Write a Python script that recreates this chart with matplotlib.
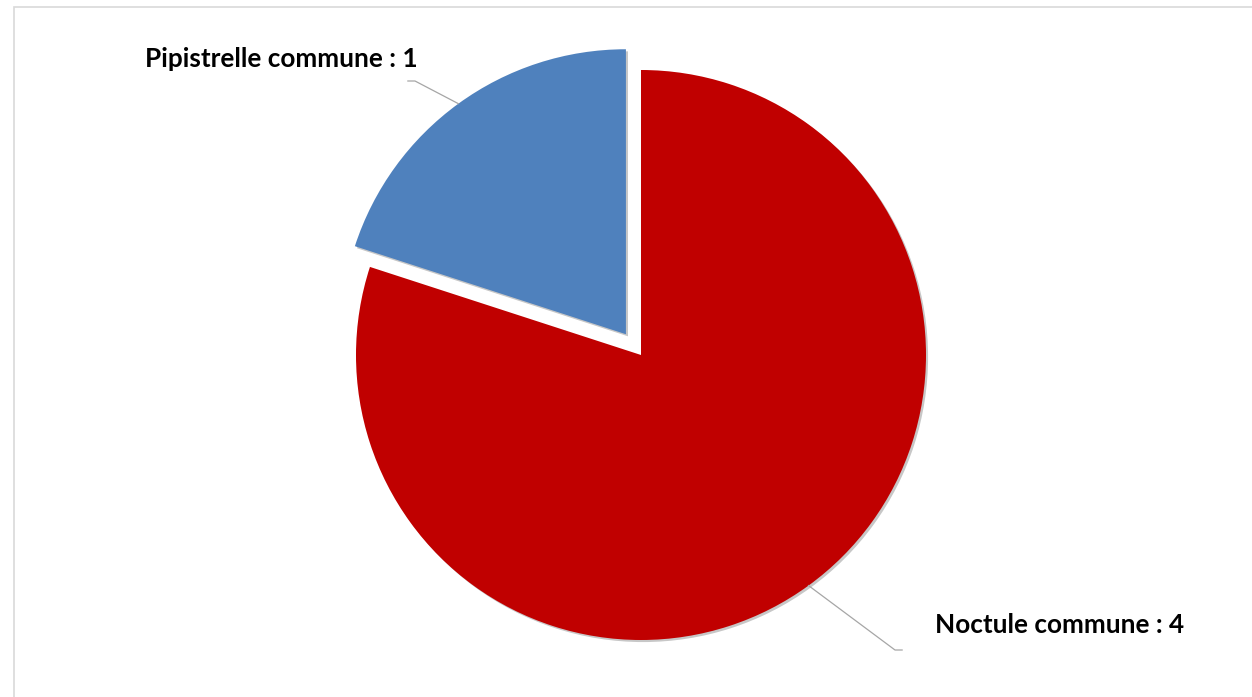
import matplotlib
matplotlib.use("Agg")
import matplotlib.pyplot as plt
from matplotlib.patches import Rectangle
import matplotlib.patheffects as pe
import numpy as np

# data
especes = ["Noctule commune", "Pipistrelle commune"]
contacts = [4, 1]
couleurs = ["#C00000", "#4F81BD"]
ecart = [0, 0.09]

fig = plt.figure(figsize=(12.52, 6.97), dpi=100)
fig.patch.set_facecolor("white")

# cadre gris du graphique
fig.patches.append(Rectangle((14 / 1252, -0.05), 1.1, (697 - 7) / 697 + 0.05,
                             transform=fig.transFigure, fill=False,
                             edgecolor="#D9D9D9", linewidth=1.2))

# axes: 1 unite = rayon du camembert, centre a (641, 355) px
ax = fig.add_axes([0, 0, 1, 1])
r_px = 285

wedges, _ = ax.pie(contacts, colors=couleurs, startangle=90, counterclock=False,
                   explode=ecart, radius=1, frame=True,
                   wedgeprops=dict(linewidth=0))
ax.set_xlim(-641 / r_px, (1252 - 641) / r_px)
ax.set_ylim((355 - 697) / r_px, 355 / r_px)
ax.set_aspect("auto")
ax.axis("off")

for w in wedges:
    w.set_path_effects([pe.SimplePatchShadow(offset=(1.5, -1.5), shadow_rgbFace="black", alpha=0.22),
                        pe.Normal()])

# etiquettes avec lignes de rappel (positions en px de l'image)
coudes_px = [(895, 650), (415, 81)]
textes_px = [(935, 625), (418, 59)]
aligns = ["left", "right"]
for w, nom, val, cpx, tpx, ha in zip(wedges, especes, contacts, coudes_px, textes_px, aligns):
    mid = np.radians((w.theta1 + w.theta2) / 2)
    cx, cy = w.center
    x0, y0 = cx + w.r * np.cos(mid), cy + w.r * np.sin(mid)
    kx, ky = (cpx[0] - 641) / r_px, (355 - cpx[1]) / r_px
    dx = 0.025 if ha == "left" else -0.025
    ax.plot([x0, kx, kx + dx], [y0, ky, ky],
            color="#A6A6A6", linewidth=0.9, zorder=1)
    tx, ty = (tpx[0] - 641) / r_px, (355 - tpx[1]) / r_px
    ax.text(tx, ty, f"{nom} : {val}", ha=ha, va="center",
            fontsize=18.8, fontweight="bold", family="Lato", color="black")

fig.savefig("out.png", dpi=100)
